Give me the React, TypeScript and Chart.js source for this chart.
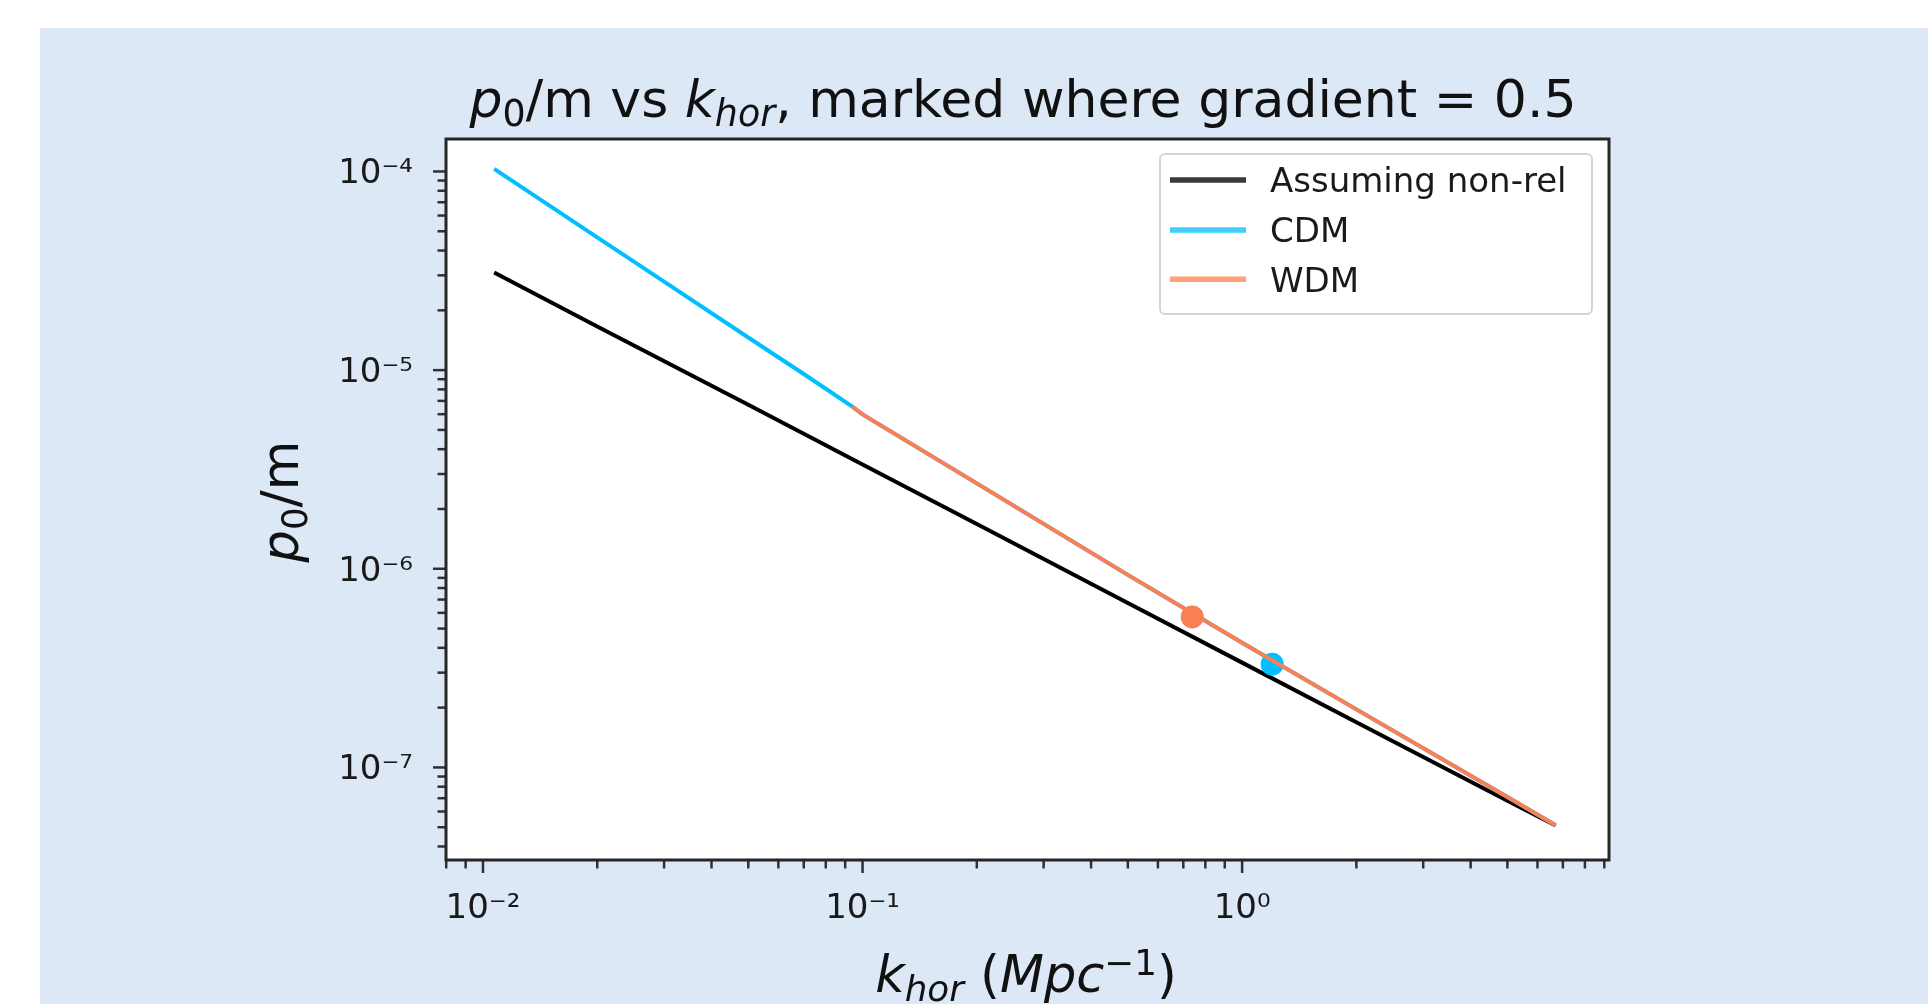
import React, { useEffect, useRef } from 'react';
import { Chart, registerables } from 'chart.js';

Chart.register(...registerables);

// ---------- data ----------
const kNonRel = [0.0107, 0.02, 0.05, 0.1, 0.2, 0.5, 1, 2, 5, 6.7];
const pNonRel = [3.1e-5, 1.66e-5, 6.7e-6, 3.35e-6, 1.68e-6, 6.72e-7, 3.37e-7, 1.69e-7, 6.8e-8, 5.1e-8];

const kCDM = [0.0107, 0.02, 0.03, 0.05, 0.07, 0.094, 0.1, 0.2, 0.5, 1, 2, 5, 6.7];
const pCDM = [1.03e-4, 4.66e-5, 2.79e-5, 1.46e-5, 9.56e-6, 6.55e-6, 5.99e-6, 2.69e-6, 9.32e-7, 4.24e-7, 1.96e-7, 7.09e-8, 5.12e-8];

const kWDM = [0.094, 0.1, 0.2, 0.5, 1, 2, 5, 6.7];
const pWDM = [6.55e-6, 5.99e-6, 2.69e-6, 9.32e-7, 4.24e-7, 1.96e-7, 7.09e-8, 5.12e-8];

// points where gradient = 0.5
const markCDMk = [1.2];
const markCDMp = [3.31e-7];
const markWDMk = [0.739];
const markWDMp = [5.72e-7];

const seriesLabels = ['Assuming non-rel', 'CDM', 'WDM'];

const xTickValues = [0.01, 0.1, 1];
const xTickLabels = ['10⁻²', '10⁻¹', '10⁰'];
const yTickValues = [1e-7, 1e-6, 1e-5, 1e-4];
const yTickLabels = ['10⁻⁷', '10⁻⁶', '10⁻⁵', '10⁻⁴'];

const X_MIN = 0.00799;
const X_MAX = 9.26;
const Y_MIN = 3.42e-8;
const Y_MAX = 1.457e-4;

// ---------- styles ----------
const BG = '#dde8f7';
const FONT = "'DejaVu Sans', sans-serif";
const C_BLACK = '#000000';
const C_CDM = '#00bfff';
const C_WDM = '#fa7f55';
const LEGEND_COLORS = ['#3a3a3a', '#3fcfff', '#ffa07a'];

type Seg = { t: string; it?: boolean; sub?: boolean; sup?: boolean };

function segFont(s: Seg, size: number) {
  const sz = s.sub || s.sup ? size * 0.7 : size;
  return `${s.it ? 'italic ' : ''}${sz}px ${FONT}`;
}
function measureRich(ctx: CanvasRenderingContext2D, segs: Seg[], size: number) {
  let w = 0;
  for (const s of segs) {
    ctx.font = segFont(s, size);
    w += ctx.measureText(s.t).width;
  }
  return w;
}
function drawRich(ctx: CanvasRenderingContext2D, segs: Seg[], size: number, x: number, y: number) {
  let cx = x;
  ctx.textBaseline = 'alphabetic';
  ctx.textAlign = 'left';
  for (const s of segs) {
    ctx.font = segFont(s, size);
    const dy = s.sub ? size * 0.17 : s.sup ? -size * 0.33 : 0;
    ctx.fillText(s.t, cx, y + dy);
    cx += ctx.measureText(s.t).width;
  }
}

const titleSegs: Seg[] = [
  { t: 'p', it: true },
  { t: '0', sub: true },
  { t: '/m vs ' },
  { t: 'k', it: true },
  { t: 'hor', it: true, sub: true },
  { t: ', marked where gradient = 0.5' },
];
const yLabelSegs: Seg[] = [{ t: 'p', it: true }, { t: '0', sub: true }, { t: '/m' }];
const xLabelSegs: Seg[] = [
  { t: 'k', it: true },
  { t: 'hor', it: true, sub: true },
  { t: ' (' },
  { t: 'Mpc', it: true },
  { t: '−1', sup: true },
  { t: ')' },
];

function labelFor(v: number, vals: number[], labels: string[]) {
  for (let i = 0; i < vals.length; i++) {
    if (Math.abs(Math.log10(v) - Math.log10(vals[i])) < 1e-6) return labels[i];
  }
  return '';
}
function niceValues(min: number, max: number) {
  const out: { v: number; major: boolean }[] = [];
  for (let e = Math.floor(Math.log10(min)) - 1; e <= Math.ceil(Math.log10(max)); e++) {
    for (let m = 1; m <= 9; m++) {
      const v = m * Math.pow(10, e);
      if (v >= min && v <= max) out.push({ v, major: m === 1 });
    }
  }
  return out;
}

const decorPlugin = {
  id: 'decor',
  beforeDraw(chart: any) {
    const { ctx, chartArea: a } = chart;
    ctx.save();
    ctx.fillStyle = '#ffffff';
    ctx.fillRect(a.left, a.top, a.right - a.left, a.bottom - a.top);
    ctx.restore();
  },
  afterDraw(chart: any) {
    const { ctx, chartArea: a } = chart;
    const xs = chart.scales.x;
    const ys = chart.scales.y;
    ctx.save();
    // tick marks
    ctx.strokeStyle = '#303030';
    ctx.lineWidth = 2.5;
    for (const t of niceValues(xs.min, xs.max)) {
      const px = xs.getPixelForValue(t.v);
      const len = t.major ? 13 : 8.5;
      ctx.beginPath();
      ctx.moveTo(px, a.bottom);
      ctx.lineTo(px, a.bottom + len);
      ctx.stroke();
    }
    for (const t of niceValues(ys.min, ys.max)) {
      const py = ys.getPixelForValue(t.v);
      const len = t.major ? 13 : 8.5;
      ctx.beginPath();
      ctx.moveTo(a.left, py);
      ctx.lineTo(a.left - len, py);
      ctx.stroke();
    }
    // frame
    ctx.strokeStyle = '#262626';
    ctx.lineWidth = 3;
    ctx.strokeRect(a.left, a.top, a.right - a.left, a.bottom - a.top);

    // title
    ctx.fillStyle = '#111111';
    const TS = 52;
    const tw = measureRich(ctx, titleSegs, TS);
    drawRich(ctx, titleSegs, TS, 983 - tw / 2, 89);

    // y label
    const LS = 51;
    const yw = measureRich(ctx, yLabelSegs, LS);
    ctx.save();
    ctx.translate(258, 473.5);
    ctx.rotate(-Math.PI / 2);
    drawRich(ctx, yLabelSegs, LS, -yw / 2, 0);
    ctx.restore();

    // x label
    const xw = measureRich(ctx, xLabelSegs, LS);
    drawRich(ctx, xLabelSegs, LS, 986 - xw / 2, 964);

    // legend
    const L = { x: 1120, y: 126, w: 432, h: 160, r: 5 };
    ctx.fillStyle = 'rgba(255,255,255,0.8)';
    ctx.strokeStyle = '#d4d4d4';
    ctx.lineWidth = 2;
    ctx.beginPath();
    ctx.roundRect(L.x, L.y, L.w, L.h, L.r);
    ctx.fill();
    ctx.stroke();
    const rowsY = [152, 202, 251.3];
    for (let i = 0; i < seriesLabels.length; i++) {
      ctx.strokeStyle = LEGEND_COLORS[i];
      ctx.lineWidth = 5.5;
      ctx.beginPath();
      ctx.moveTo(1130, rowsY[i]);
      ctx.lineTo(1206, rowsY[i]);
      ctx.stroke();
      ctx.fillStyle = '#1a1a1a';
      ctx.font = `34px ${FONT}`;
      ctx.textAlign = 'left';
      ctx.textBaseline = 'alphabetic';
      ctx.fillText(seriesLabels[i], 1230, rowsY[i] + 12.4);
    }
    ctx.restore();
  },
};

function pts(ks: number[], ps: number[]) {
  return ks.map((k, i) => ({ x: k, y: ps[i] }));
}

export default function App() {
  const ref = useRef<HTMLCanvasElement>(null);
  useEffect(() => {
    if (!ref.current) return;
    const tickFont = { family: FONT, size: 34 };
    const chart = new Chart(ref.current, {
      type: 'scatter',
      data: {
        datasets: [
          {
            label: seriesLabels[0],
            data: pts(kNonRel, pNonRel),
            showLine: true,
            borderColor: C_BLACK,
            borderWidth: 4,
            pointRadius: 0,
            order: 5,
          },
          {
            label: seriesLabels[1],
            data: pts(kCDM, pCDM),
            showLine: true,
            borderColor: C_CDM,
            borderWidth: 4,
            pointRadius: 0,
            order: 4,
          },
          {
            label: 'CDM gradient = 0.5',
            data: pts(markCDMk, markCDMp),
            showLine: false,
            pointRadius: 11.5,
            pointBackgroundColor: C_CDM,
            pointBorderWidth: 0,
            order: 3,
          },
          {
            label: seriesLabels[2],
            data: pts(kWDM, pWDM),
            showLine: true,
            borderColor: C_WDM,
            borderWidth: 4,
            pointRadius: 0,
            order: 2,
          },
          {
            label: 'WDM gradient = 0.5',
            data: pts(markWDMk, markWDMp),
            showLine: false,
            pointRadius: 11.5,
            pointBackgroundColor: C_WDM,
            pointBorderWidth: 0,
            order: 1,
          },
        ],
      },
      options: {
        responsive: false,
        animation: false,
        devicePixelRatio: 1,
        layout: { padding: { left: 0, top: 111, right: 319, bottom: 0 } },
        plugins: {
          legend: { display: false },
          title: { display: false },
          tooltip: { enabled: false },
        },
        scales: {
          x: {
            type: 'logarithmic',
            bounds: 'data',
            min: X_MIN,
            max: X_MAX,
            grid: { display: false, drawTicks: false },
            border: { display: false },
            afterFit: (s: any) => {
              s.height = 144;
            },
            ticks: {
              autoSkip: false,
              maxRotation: 0,
              minRotation: 0,
              padding: 29,
              color: '#1a1a1a',
              font: tickFont,
              callback: (v: any) => labelFor(Number(v), xTickValues, xTickLabels),
            },
          },
          y: {
            type: 'logarithmic',
            bounds: 'data',
            min: Y_MIN,
            max: Y_MAX,
            grid: { display: false, drawTicks: false },
            border: { display: false },
            afterFit: (s: any) => {
              s.width = 406;
            },
            ticks: {
              autoSkip: false,
              padding: 33,
              labelOffset: 3,
              color: '#1a1a1a',
              font: tickFont,
              callback: (v: any) => labelFor(Number(v), yTickValues, yTickLabels),
            },
          },
        },
      } as any,
      plugins: [decorPlugin],
    });
    return () => chart.destroy();
  }, []);
  return (
    <div
      style={{
        position: 'absolute',
        left: 40,
        top: 28,
        width: 1888,
        height: 976,
        background: BG,
        overflow: 'hidden',
      }}
    >
      <canvas ref={ref} width={1888} height={976} style={{ display: 'block' }} />
    </div>
  );
}
